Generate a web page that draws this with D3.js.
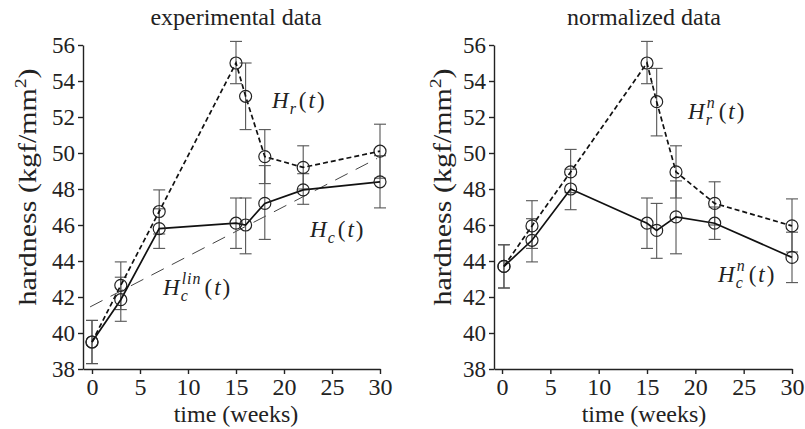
<!DOCTYPE html>
<html>
<head>
<meta charset="utf-8">
<script src="https://cdn.jsdelivr.net/npm/d3@7"></script>
<style>
  body { margin: 0; background: #fff; }
  svg { display: block; }
  svg text { font-family: "Liberation Serif", "Times New Roman", Times, serif; }
  .axis path, .axis line { stroke: #222; stroke-width: 1.4; }
  .axis text { fill: #222; }
</style>
</head>
<body>
<svg id="chart" width="805" height="429"></svg>
<script>
// sampling times (weeks)
let weeks = [0, 3, 7, 15, 16, 18, 22, 30]
let weeksNorm = [0.2, 3.1, 7.1, 15, 16, 18, 22, 30]
let xTicks = [0, 5, 10, 15, 20, 25, 30]
let yTicks = [38, 40, 42, 44, 46, 48, 50, 52, 54, 56]

// experimental data
let expHr = [39.5, 42.65, 46.75, 55.0, 53.15, 49.8, 49.2, 50.1]
let expHrLo = [38.3, 41.3, 45.5, 53.85, 51.3, 48.3, 48.0, 48.6]
let expHrHi = [40.7, 43.95, 47.95, 56.2, 55.0, 51.3, 50.4, 51.6]
let expHc = [39.5, 41.85, 45.8, 46.1, 46.0, 47.2, 47.95, 48.4]
let expHcLo = [38.3, 40.65, 44.7, 44.7, 44.4, 45.2, 47.15, 46.95]
let expHcHi = [40.7, 43.1, 46.9, 47.5, 47.5, 49.3, 48.85, 49.85]
let linWeeks = [-0.2, 29.7]
let linHc = [41.45, 49.7]

// normalized data
let normHr = [43.7, 45.95, 48.95, 55.0, 52.85, 48.95, 47.2, 45.95]
let normHrLo = [42.5, 44.7, 47.8, 53.85, 50.95, 47.5, 46.0, 44.5]
let normHrHi = [44.9, 47.35, 50.2, 56.2, 54.7, 50.4, 48.4, 47.45]
let normHc = [43.7, 45.15, 48.0, 46.1, 45.7, 46.45, 46.1, 44.2]
let normHcLo = [42.5, 43.95, 46.85, 44.7, 44.15, 44.4, 45.2, 42.8]
let normHcHi = [44.9, 46.35, 49.1, 47.5, 47.2, 48.45, 47.0, 45.6]

let serif = '"Liberation Serif", "Times New Roman", Times, serif'
let svg = d3.select('#chart')

let y = d3.scaleLinear().domain([38, 56]).range([369, 45])

let zip = (t, v, lo, hi) => t.map((d, i) => ({ t: d, v: v[i], lo: lo[i], hi: hi[i] }))

let mathLabel = (g, x0, yb, sub, sup) => {
  let h = g.append('text')
    .attr('x', x0).attr('y', yb)
    .attr('font-family', serif)
    .attr('font-size', 23).attr('font-style', 'italic')
    .attr('fill', '#222')
    .text('H')
  let wH = h.node().getComputedTextLength()
  let xs = x0 + wH + 1
  let wSub = 0
  if (sub) {
    let s = g.append('text')
      .attr('x', xs).attr('y', yb + 6)
      .attr('font-family', serif)
      .attr('font-size', 16).attr('font-style', 'italic')
      .attr('fill', '#222')
      .text(sub)
    wSub = s.node().getComputedTextLength()
  }
  let wSup = 0
  if (sup) {
    let s = g.append('text')
      .attr('x', xs + 1).attr('y', yb - 11)
      .attr('font-family', serif)
      .attr('font-size', 16).attr('font-style', 'italic')
      .attr('fill', '#222')
      .attr('letter-spacing', 1)
      .text(sup)
    wSup = s.node().getComputedTextLength() + 1
  }
  let xp = xs + Math.max(wSub, wSup) + 3
  let p = g.append('text')
    .attr('x', xp).attr('y', yb)
    .attr('font-family', serif)
    .attr('font-size', 23)
    .attr('fill', '#222')
    .attr('letter-spacing', 2)
  p.append('tspan').text('(')
  p.append('tspan').attr('font-style', 'italic').text('t')
  p.append('tspan').text(')')
}

let drawPanel = (opts) => {
  let x = d3.scaleLinear().domain(opts.xDomain).range(opts.xRange)
  let g = svg.append('g')

  g.append('text')
    .attr('x', opts.titleX).attr('y', 25)
    .attr('text-anchor', 'middle')
    .attr('font-family', serif)
    .attr('font-size', 24)
    .attr('fill', '#222')
    .text(opts.title)

  g.append('g')
    .attr('class', 'axis')
    .attr('transform', 'translate(0,' + y(38) + ')')
    .call(d3.axisBottom(x).tickValues(xTicks).tickSizeInner(5).tickSizeOuter(0).tickPadding(4))
    .attr('font-family', serif)
    .attr('font-size', 24)

  g.append('g')
    .attr('class', 'axis')
    .attr('transform', 'translate(' + opts.xRange[0] + ',0)')
    .call(d3.axisLeft(y).tickValues(yTicks).tickSizeInner(5).tickSizeOuter(0).tickPadding(3))
    .attr('font-family', serif)
    .attr('font-size', 23)

  // the label in the reference is drawn a little stretched along its length
  let yl = g.append('text')
    .attr('text-anchor', 'middle')
    .attr('transform', 'translate(' + opts.yLabelX + ',187)rotate(-90)scale(1.2,1)')
    .attr('font-family', serif)
    .attr('font-size', 25)
    .attr('fill', '#222')
  yl.append('tspan').text('hardness (kgf/mm')
  yl.append('tspan').attr('font-size', 16).attr('dy', -10).text('2')
  yl.append('tspan').attr('dy', 10).text(')')

  g.append('text')
    .attr('x', opts.titleX).attr('y', 422)
    .attr('text-anchor', 'middle')
    .attr('font-family', serif)
    .attr('font-size', 24)
    .attr('fill', '#222')
    .text('time (weeks)')

  if (opts.lin) {
    g.append('path')
      .datum(linWeeks.map((t, i) => [t, linHc[i]]))
      .attr('fill', 'none')
      .attr('stroke', '#444')
      .attr('stroke-width', 1)
      .attr('stroke-dasharray', '14,9')
      .attr('d', d3.line().x(d => x(d[0])).y(d => y(d[1])))
  }

  opts.series.forEach(s => {
    let bars = g.append('g').selectAll('g')
      .data(s.data)
      .enter().append('g')
    bars.append('line')
      .attr('x1', d => x(d.t)).attr('x2', d => x(d.t))
      .attr('y1', d => y(d.lo)).attr('y2', d => y(d.hi))
      .attr('stroke', '#555').attr('stroke-width', 1.1)
    bars.append('line')
      .attr('x1', d => x(d.t) - 6).attr('x2', d => x(d.t) + 6)
      .attr('y1', d => y(d.lo)).attr('y2', d => y(d.lo))
      .attr('stroke', '#555').attr('stroke-width', 1.1)
    bars.append('line')
      .attr('x1', d => x(d.t) - 6).attr('x2', d => x(d.t) + 6)
      .attr('y1', d => y(d.hi)).attr('y2', d => y(d.hi))
      .attr('stroke', '#555').attr('stroke-width', 1.1)
  })

  opts.series.forEach(s => {
    g.append('path')
      .datum(s.data)
      .attr('fill', 'none')
      .attr('stroke', '#111')
      .attr('stroke-width', 1.7)
      .attr('stroke-dasharray', s.dash)
      .attr('d', d3.line().x(d => x(d.t)).y(d => y(d.v)))
    g.append('g').selectAll('circle')
      .data(s.data)
      .enter().append('circle')
      .attr('cx', d => x(d.t))
      .attr('cy', d => y(d.v))
      .attr('r', 6)
      .attr('fill', 'none')
      .attr('stroke', '#222')
      .attr('stroke-width', 1.2)
  })

  opts.labels.forEach(l => mathLabel(g, l.x, l.y, l.sub, l.sup))
}

drawPanel({
  title: 'experimental data',
  titleX: 236,
  xDomain: [-0.9375, 30],
  xRange: [83, 380],
  yLabelX: 36,
  lin: true,
  series: [
    { data: zip(weeks, expHr, expHrLo, expHrHi), dash: '5,3' },
    { data: zip(weeks, expHc, expHcLo, expHcHi), dash: null }
  ],
  labels: [
    { x: 272, y: 108, sub: 'r', sup: null },
    { x: 310, y: 237, sub: 'c', sup: null },
    { x: 163, y: 295, sub: 'c', sup: 'lin' }
  ]
})

drawPanel({
  title: 'normalized data',
  titleX: 644,
  xDomain: [-0.83, 30],
  xRange: [494, 792],
  yLabelX: 451,
  lin: false,
  series: [
    { data: zip(weeksNorm, normHr, normHrLo, normHrHi), dash: '5,3' },
    { data: zip(weeksNorm, normHc, normHcLo, normHcHi), dash: null }
  ],
  labels: [
    { x: 688, y: 119, sub: 'r', sup: 'n' },
    { x: 718, y: 282, sub: 'c', sup: 'n' }
  ]
})
</script>
</body>
</html>
